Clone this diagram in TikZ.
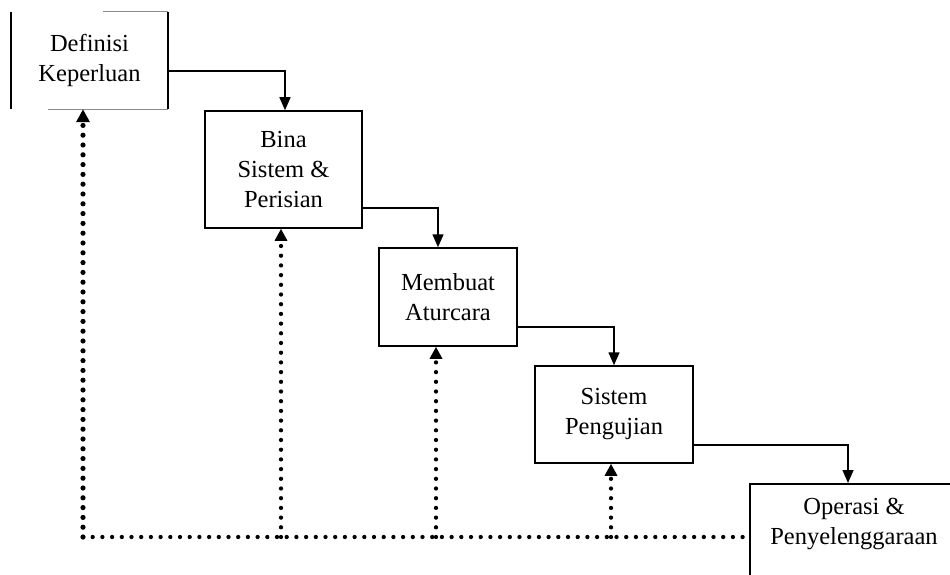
\documentclass[tikz,border=0pt]{standalone}
\usepackage{fontspec}
\setmainfont{Liberation Serif}
\usetikzlibrary{arrows.meta}
\begin{document}
\begin{tikzpicture}[x=1pt,y=-1pt,
  box/.style={draw, line width=1.5pt, rectangle, inner sep=0pt, align=center, font=\fontsize{24.5}{30}\selectfont},
  txt/.style={inner sep=0pt, align=center, font=\fontsize{24.5}{30}\selectfont},
  conn/.style={line width=1.5pt, -{Triangle[length=13pt,width=11pt]}},
  fbthick/.style={line width=5.2pt, line cap=round, dash pattern=on 0pt off 9.8pt, -{Triangle[length=13pt,width=13pt]}},
  fb/.style={line width=4.3pt, line cap=round, dash pattern=on 0pt off 9.7pt, -{Triangle[length=12pt,width=12pt]}},
  fbline/.style={line width=4.3pt, line cap=round, dash pattern=on 0pt off 9.7pt},
  faint/.style={line width=1.2pt, draw=black!45}
]
\useasboundingbox (0,0) rectangle (950,575);
\clip (0,0) rectangle (950,575);

% boxes
\node[txt, minimum width=157, minimum height=97] (box1) at (89.5,60.5) {Definisi\\Keperluan};
\draw[line width=1.5pt] (box1.north west) -- (box1.south west);
\draw[line width=1.5pt] (box1.north east) -- (box1.south east);
\draw[faint] (box1.north east) -- ++(-65,0);
\draw[faint] (box1.south east) -- ++(-120,0);

\node[box, minimum width=157, minimum height=117] (box2) at (283.5,169.5) {Bina\\Sistem \&\\Perisian};
\node[box, minimum width=138, minimum height=98] (box3) at (448,297) {Membuat\\Aturcara};
\node[box, minimum width=158, minimum height=97] (box4) at (614,414.5) {Sistem\\Pengujian};
\node[box, anchor=north west, minimum width=240, minimum height=150] (box5) at (749,483) {};
\node[txt] (t5) at (854,524) {Operasi \&\\Penyelenggaraan};

% forward connectors
\draw[conn] ([yshift=-10.5pt]box1.east) -| ([xshift=1.5pt]box2.north);
\draw[conn] ([yshift=-38.5pt]box2.east) -| ([xshift=-10pt]box3.north);
\draw[conn] ([yshift=-30pt]box3.east) -| (box4.north);
\draw[conn] ([yshift=-30.5pt]box4.east) -| ([xshift=99pt]box5.north west);

% feedback
\coordinate (c1) at (83,537);
\coordinate (c2) at (281,537);
\coordinate (c3) at (436,537);
\coordinate (c4) at (611,537);
\draw[fbline] (c1) -- (c1 -| box5.west);
\draw[fbthick] (c1) -- (c1 |- box1.south);
\draw[fb] (c2) -- (c2 |- box2.south);
\draw[fb] (c3) -- (c3 |- box3.south);
\draw[fb] (c4) -- (c4 |- box4.south);
\end{tikzpicture}
\end{document}
